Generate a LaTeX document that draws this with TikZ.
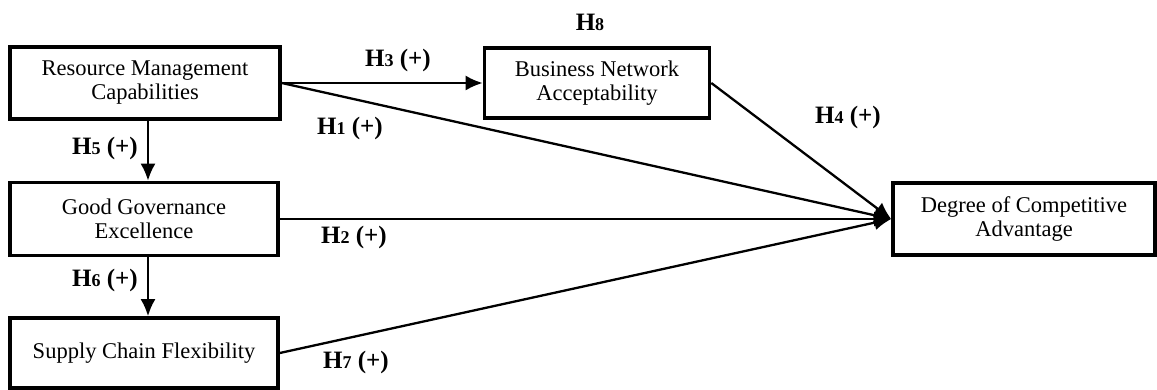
\documentclass[tikz,border=0pt]{standalone}
\usepackage{fontspec}
\setmainfont{Liberation Serif}
\usetikzlibrary{arrows.meta}
\newcommand{\hyp}[1]{H{\fontsize{18}{18}\selectfont #1}}

\begin{document}
\begin{tikzpicture}[x=1pt,y=-1pt,
    box/.style={draw,line width=3.6pt,align=center,inner sep=0pt,font=\fontsize{22.5}{24}\selectfont},
    lab/.style={font=\bfseries\fontsize{25}{26}\selectfont},
    link/.style={line width=2.3pt,-{Latex[length=17pt,width=15pt]}}]
    \useasboundingbox (0,0) rectangle (1157,390);

    % Define nodes
    \node[box,minimum width=270pt,minimum height=72pt] (RM) at (145,83) {Resource Management\\Capabilities};
    \node[box,minimum width=225pt,minimum height=70pt] (BN) at (597,83) {Business Network\\Acceptability};
    \node[box,minimum width=268pt,minimum height=73pt] (GG) at (144,219) {Good Governance\\Excellence};
    \node[box,minimum width=268pt,minimum height=70pt] (SC) at (144,353) {Supply Chain Flexibility};
    \node[box,minimum width=262pt,minimum height=72pt] (DC) at (1024,219) {Degree of Competitive\\Advantage};

    % Labels
    \node[lab] (L8) at (590,22) {\hyp{8}};
    \node[lab] (L3) at (398,60) {\hyp{3} (+)};
    \node[lab] (L1) at (350,128) {\hyp{1} (+)};
    \node[lab] (L5) at (105,148) {\hyp{5} (+)};
    \node[lab] (L4) at (848,117) {\hyp{4} (+)};
    \node[lab] (L2) at (354,237) {\hyp{2} (+)};
    \node[lab] (L6) at (105,280) {\hyp{6} (+)};
    \node[lab] (L7) at (356,362) {\hyp{7} (+)};

    % Draw arrows
    \draw[link] (RM) -- (BN);
    \draw[link] (RM.east) -- (DC.west);
    \draw[link] (BN.east) -- (DC.west);
    \draw[link] (GG.east) -- (DC.west);
    \draw[link] (SC.east) -- (DC.west);
    \draw[link] (RM.south -| 148,0) -- (GG.north -| 148,0);
    \draw[link] (GG.south -| 148,0) -- (SC.north -| 148,0);
\end{tikzpicture}
\end{document}
